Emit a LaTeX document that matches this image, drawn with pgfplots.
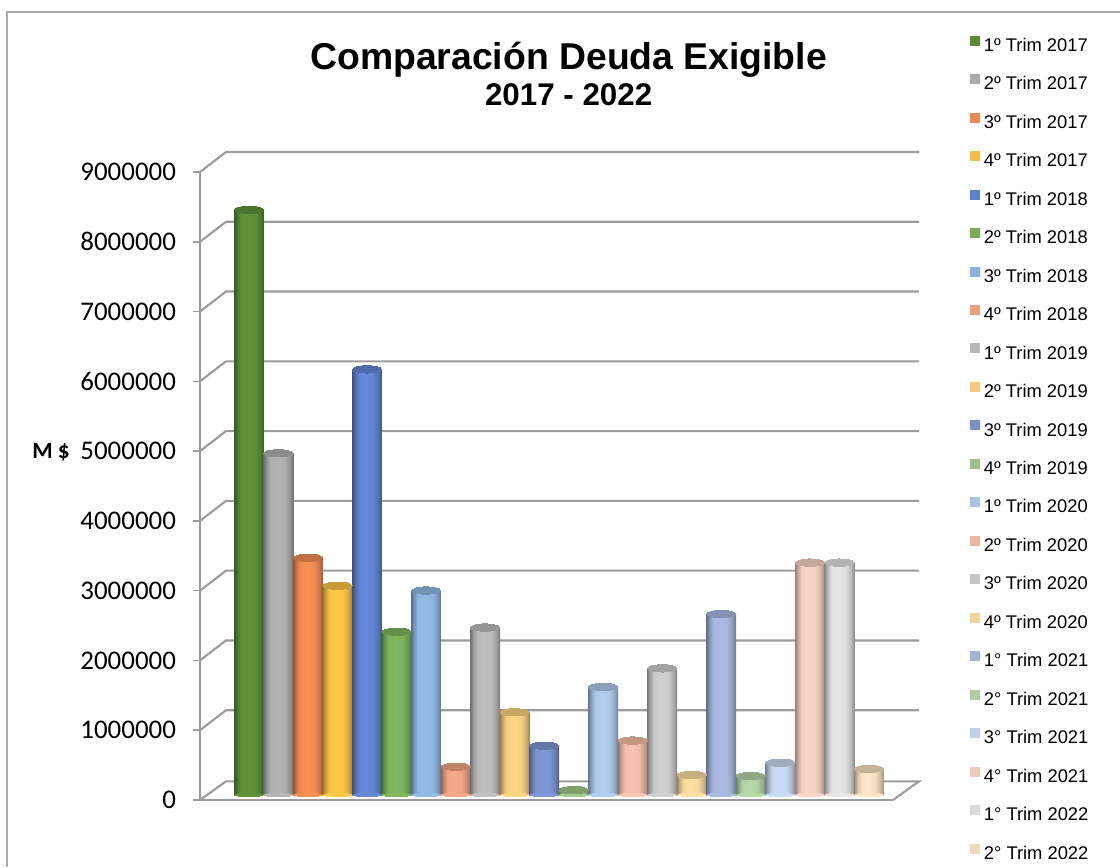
\documentclass[border=0pt]{standalone}
\usepackage{pgfplots}
\pgfplotsset{compat=1.18}
\usepackage{fontspec}
\setmainfont{Liberation Sans}
\newfontfamily\carlito{Carlito}
\definecolor{gridc}{HTML}{9C9C9C}
\definecolor{framec}{HTML}{ABABAB}
\definecolor{c1}{HTML}{5F9339}
\definecolor{c2}{HTML}{B4B4B4}
\definecolor{c3}{HTML}{FA8F55}
\definecolor{c4}{HTML}{FFC847}
\definecolor{c5}{HTML}{6488D8}
\definecolor{c6}{HTML}{80B85C}
\definecolor{c7}{HTML}{93BCE8}
\definecolor{c8}{HTML}{F6A988}
\definecolor{c9}{HTML}{C0C0C0}
\definecolor{c10}{HTML}{FFD683}
\definecolor{c11}{HTML}{8098D8}
\definecolor{c12}{HTML}{A2CC8C}
\definecolor{c13}{HTML}{B2CDEE}
\definecolor{c14}{HTML}{F8C2AC}
\definecolor{c15}{HTML}{D0D0D0}
\definecolor{c16}{HTML}{FFE0A2}
\definecolor{c17}{HTML}{ABBBE4}
\definecolor{c18}{HTML}{B8D8AA}
\definecolor{c19}{HTML}{CBDCF4}
\definecolor{c20}{HTML}{FDD5C6}
\definecolor{c21}{HTML}{E6E6E6}
\definecolor{c22}{HTML}{FDE6C4}
\newcommand{\declcyl}[1]{%
  \pgfdeclarehorizontalshading{cyl#1}{100bp}{%
    color(0bp)=(#1!60!black); color(25bp)=(#1!60!black);
    color(30bp)=(#1!80!black); color(36bp)=(#1!97!black);
    color(48bp)=(#1); color(60bp)=(#1!97!black);
    color(69bp)=(#1!82!black); color(75bp)=(#1!62!black); color(100bp)=(#1!62!black)}%
}
\declcyl{c1}\declcyl{c2}\declcyl{c3}\declcyl{c4}\declcyl{c5}\declcyl{c6}\declcyl{c7}\declcyl{c8}
\declcyl{c9}\declcyl{c10}\declcyl{c11}\declcyl{c12}\declcyl{c13}\declcyl{c14}\declcyl{c15}\declcyl{c16}
\declcyl{c17}\declcyl{c18}\declcyl{c19}\declcyl{c20}\declcyl{c21}\declcyl{c22}
\newcommand{\cylbar}[4]{%
  \addplot[forget plot, only marks, yshift=3.75pt, mark=*, mark size=11pt,
    mark options={draw=#3, fill=#3, line width=0pt, yscale=.1}] coordinates {(#1,0)};
  \addplot[ybar, bar width=22.3pt, draw=none, yshift=3.75pt,
    shade, shading=cyl#3,
    legend image code/.code={\pgfsetfillcolor{#3!95!black}\pgfpathrectangle{\pgfpoint{0pt}{-3pt}}{\pgfpoint{7.5pt}{7.5pt}}\pgfusepath{fill}}]
    coordinates {(#1,#2)};
  \addlegendentry{#4}
  \addplot[forget plot, only marks, yshift=3.75pt, mark=*, mark size=11pt,
    mark options={draw=#3!78!black, fill=#3!78!black, line width=0pt, yscale=.25, rotate=4}] coordinates {(#1,#2)};
}
\begin{document}
\begin{tikzpicture}[x=0.75pt,y=0.75pt]
\path[use as bounding box] (-200,-67) rectangle (920,800);
\begin{axis}[
  at={(0pt,0pt)}, anchor=south west, scale only axis,
  width=519.75pt, height=471pt,
  xmin=-1.66, xmax=21.815, ymin=0, ymax=9000000,
  clip=false,
  axis y line*=left, axis x line*=bottom,
  axis line style={gridc, line width=1.8pt, -},
  xtick=\empty,
  ytick={0,1000000,2000000,3000000,4000000,5000000,6000000,7000000,8000000,9000000},
  scaled y ticks=false,
  major tick length=5pt,
  tick align=outside,
  tick style={gridc, line width=1.2pt},
  yticklabel style={font=\carlito\fontsize{20.2pt}{21pt}\selectfont, text=black, xshift=-9.5pt,
    /pgf/number format/fixed, /pgf/number format/precision=0, /pgf/number format/1000 sep={},
    /pgf/number format/assume math mode=true},
  ylabel={M \$},
  ylabel style={rotate=-90, at={(axis description cs:-0.215,0.554)}, anchor=center,
    font=\carlito\bfseries\fontsize{17.5pt}{18pt}\selectfont},
  title={\fontsize{28pt}{33pt}\selectfont Comparación Deuda Exigible\\[3.75pt]\fontsize{23.5pt}{27pt}\selectfont 2017 - 2022},
  title style={at={(axis description cs:0.532,1.143)}, anchor=center, align=center, font=\bfseries},
  legend style={at={(axis description cs:1.111,1.217)}, anchor=north west, draw=none, fill=none,
    font=\fontsize{13.75pt}{14pt}\selectfont, row sep=14.1pt, inner sep=0pt, outer sep=0pt,
    nodes={inner sep=0pt, text height=10pt, text depth=3pt}},
  legend cell align=left,
]
% back wall and side lines
\pgfplotsinvokeforeach{1000000,2000000,3000000,4000000,5000000,6000000,7000000,8000000,9000000}{
  \draw[gridc, line width=1.6pt] (axis cs:-1.66,#1) -- ++(19.5pt,15pt) -- ++(519.75pt,0pt);
}
\draw[gridc, line width=1.6pt] (axis cs:-1.66,0) -- ++(19.5pt,14pt) -- ++(519.75pt,0pt) -- (axis cs:21.815,0);
\cylbar{0}{8385000}{c1}{\hspace{3pt}1º Trim 2017}
\cylbar{1}{4897000}{c2}{\hspace{3pt}2º Trim 2017}
\cylbar{2}{3400000}{c3}{\hspace{3pt}3º Trim 2017}
\cylbar{3}{3000000}{c4}{\hspace{3pt}4º Trim 2017}
\cylbar{4}{6100000}{c5}{\hspace{3pt}1º Trim 2018}
\cylbar{5}{2340000}{c6}{\hspace{3pt}2º Trim 2018}
\cylbar{6}{2930000}{c7}{\hspace{3pt}3º Trim 2018}
\cylbar{7}{405000}{c8}{\hspace{3pt}4º Trim 2018}
\cylbar{8}{2400000}{c9}{\hspace{3pt}1º Trim 2019}
\cylbar{9}{1185000}{c10}{\hspace{3pt}2º Trim 2019}
\cylbar{10}{707000}{c11}{\hspace{3pt}3º Trim 2019}
\cylbar{11}{70000}{c12}{\hspace{3pt}4º Trim 2019}
\cylbar{12}{1550000}{c13}{\hspace{3pt}1º Trim 2020}
\cylbar{13}{780000}{c14}{\hspace{3pt}2º Trim 2020}
\cylbar{14}{1815000}{c15}{\hspace{3pt}3º Trim 2020}
\cylbar{15}{287000}{c16}{\hspace{3pt}4º Trim 2020}
\cylbar{16}{2594000}{c17}{\hspace{3pt}1° Trim 2021}
\cylbar{17}{272000}{c18}{\hspace{3pt}2° Trim 2021}
\cylbar{18}{463000}{c19}{\hspace{3pt}3° Trim 2021}
\cylbar{19}{3330000}{c20}{\hspace{3pt}4° Trim 2021}
\cylbar{20}{3330000}{c21}{\hspace{3pt}1° Trim 2022}
\cylbar{21}{373000}{c22}{\hspace{3pt}2° Trim 2022}
\end{axis}
\draw[framec, line width=1.5pt] (-193,-67) -- (-193,788) -- (920,788);
\end{tikzpicture}
\end{document}
